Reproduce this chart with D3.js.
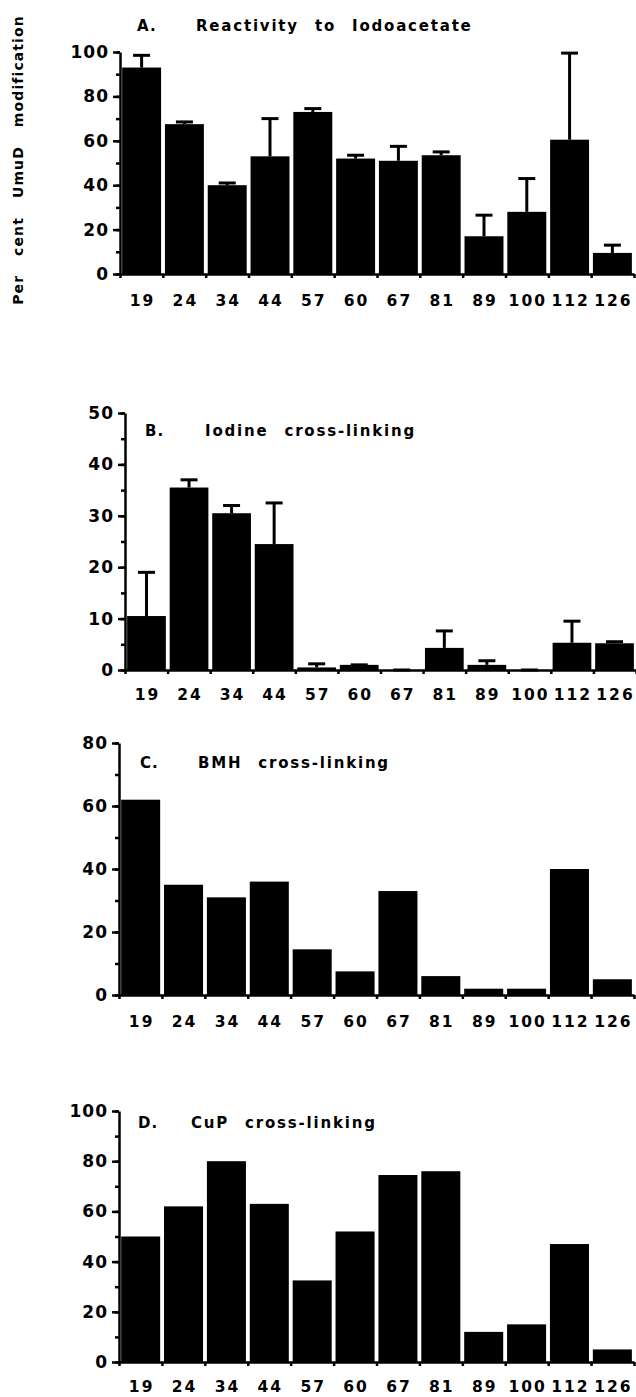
<!DOCTYPE html>
<html>
<head>
<meta charset="utf-8">
<script src="https://cdn.jsdelivr.net/npm/d3@7"></script>
<style>
  body { margin: 0; background: #fff; }
  svg { display: block; }
  text { font-family: "DejaVu Sans", sans-serif; font-weight: bold; fill: #000; }
</style>
</head>
<body>
<svg id="chart" width="636" height="1397"></svg>
<script>
// residue positions (cysteine substitutions)
var residues = ["19", "24", "34", "44", "57", "60", "67", "81", "89", "100", "112", "126"];

// A - reactivity to iodoacetate (mean, upper error)
var iodoacetate    = [93, 67.5, 40, 53, 73, 52, 51, 53.5, 17, 28, 60.5, 9.5];
var iodoacetateErr = [5.5, 1, 1, 17, 1.5, 1.5, 6.5, 1.5, 9.5, 15, 39, 3.5];

// B - iodine cross-linking
var iodine    = [10.5, 35.5, 30.5, 24.5, 0.5, 1, 0, 4.3, 1, 0, 5.3, 5.2];
var iodineErr = [8.5, 1.5, 1.5, 8, 0.7, 0, 0, 3.3, 0.8, 0, 4.2, 0.3];

// C - BMH cross-linking
var bmh = [62, 35, 31, 36, 14.5, 7.5, 33, 6, 2, 2, 40, 5];

// D - CuP cross-linking
var cup = [50, 62, 80, 63, 32.5, 52, 74.5, 76, 12, 15, 47, 5];

var svg = d3.select("#chart");

// panel layout: pixel box of each plot and its labels
var panels = [
  { letter: "A.", title: "Reactivity to Iodoacetate", values: iodoacetate, errors: iodoacetateErr,
    max: 100, major: 20, minor: 10, left: 120, right: 634, top: 52, bottom: 274,
    letterX: 137, titleX: 196, titleY: 31, labelY: 306 },
  { letter: "B.", title: "Iodine cross-linking", values: iodine, errors: iodineErr,
    max: 50, major: 10, minor: 5, left: 125, right: 636, top: 413, bottom: 670,
    letterX: 145, titleX: 205, titleY: 436, labelY: 700 },
  { letter: "C.", title: "BMH cross-linking", values: bmh, errors: null,
    max: 80, major: 20, minor: 10, left: 119, right: 634, top: 743, bottom: 995,
    letterX: 140, titleX: 198, titleY: 768, labelY: 1027 },
  { letter: "D.", title: "CuP cross-linking", values: cup, errors: null,
    max: 100, major: 20, minor: 10, left: 119, right: 634, top: 1111, bottom: 1362,
    letterX: 138, titleX: 191, titleY: 1128, labelY: 1392 }
];

panels.forEach(function(p)
{
  var g = svg.append("g");

  var x = d3.scaleBand()
    .domain(residues)
    .range([p.left, p.right])
    .paddingInner(0.09)
    .paddingOuter(0.05);

  var y = d3.scaleLinear()
    .domain([0, p.max])
    .range([p.bottom, p.top]);

  // bars
  g.selectAll("rect.bar")
    .data(p.values)
    .enter().append("rect")
    .attr("class", "bar")
    .attr("x", function(d, i) { return x(residues[i]); })
    .attr("width", x.bandwidth())
    .attr("y", function(d) { return y(d); })
    .attr("height", function(d) { return y(0) - y(d); })
    .attr("fill", "#000");

  // upward error bars
  if(p.errors)
  {
    var eb = g.selectAll("g.err")
      .data(p.values)
      .enter().append("g")
      .attr("class", "err");

    eb.append("line")
      .attr("x1", function(d, i) { return x(residues[i]) + x.bandwidth() / 2; })
      .attr("x2", function(d, i) { return x(residues[i]) + x.bandwidth() / 2; })
      .attr("y1", function(d) { return y(d); })
      .attr("y2", function(d, i) { return y(d + p.errors[i]); })
      .attr("stroke", "#000")
      .attr("stroke-width", 3);

    eb.append("line")
      .attr("x1", function(d, i) { return x(residues[i]) + x.bandwidth() / 2 - 8.5; })
      .attr("x2", function(d, i) { return x(residues[i]) + x.bandwidth() / 2 + 8.5; })
      .attr("y1", function(d, i) { return y(d + p.errors[i]); })
      .attr("y2", function(d, i) { return y(d + p.errors[i]); })
      .attr("stroke", "#000")
      .attr("stroke-width", 3);
  }

  // y axis: major ticks with labels, minor ticks without
  var yAxis = g.append("g")
    .attr("transform", "translate(" + p.left + ",0)")
    .call(d3.axisLeft(y)
      .tickValues(d3.range(0, p.max + 1, p.major))
      .tickSize(7)
      .tickPadding(4)
      .tickSizeOuter(0));
  yAxis.selectAll("text")
    .style("font-size", "17px")
    .style("letter-spacing", "1px");

  var yMinor = g.append("g")
    .attr("transform", "translate(" + p.left + ",0)")
    .call(d3.axisLeft(y)
      .tickValues(d3.range(0, p.max + 1, p.minor))
      .tickSize(4)
      .tickFormat("")
      .tickSizeOuter(0));
  yMinor.select(".domain").remove();

  // x axis: ticks at bar boundaries, labels under bars
  var edge = d3.scaleLinear()
    .domain([0, residues.length])
    .range([p.left, p.right]);

  g.append("g")
    .attr("transform", "translate(0," + p.bottom + ")")
    .call(d3.axisBottom(edge)
      .tickValues(d3.range(residues.length + 1))
      .tickSize(4)
      .tickFormat("")
      .tickSizeOuter(0));

  g.selectAll("text.xlab")
    .data(residues)
    .enter().append("text")
    .attr("class", "xlab")
    .attr("x", function(d) { return x(d) + x.bandwidth() / 2 + 1; })
    .attr("y", p.labelY)
    .attr("text-anchor", "middle")
    .style("font-size", "15.5px")
    .style("letter-spacing", "2px")
    .text(function(d) { return d; });

  g.selectAll(".domain, .tick line")
    .attr("stroke", "#000")
    .attr("stroke-width", 2.5);
  g.selectAll(".tick text").attr("fill", "#000");

  // panel title
  g.append("text")
    .attr("x", p.letterX)
    .attr("y", p.titleY)
    .style("font-size", "15px")
    .style("letter-spacing", "1px")
    .text(p.letter);

  g.append("text")
    .attr("x", p.titleX)
    .attr("y", p.titleY)
    .style("font-size", "15px")
    .style("letter-spacing", "1.8px")
    .style("word-spacing", "9px")
    .text(p.title);
});

// shared y axis label
svg.append("text")
  .attr("transform", "translate(23,160) rotate(-90)")
  .attr("text-anchor", "middle")
  .style("font-size", "14px")
  .style("letter-spacing", "1.1px")
  .style("word-spacing", "13px")
  .text("Per cent UmuD modification");
</script>
</body>
</html>
